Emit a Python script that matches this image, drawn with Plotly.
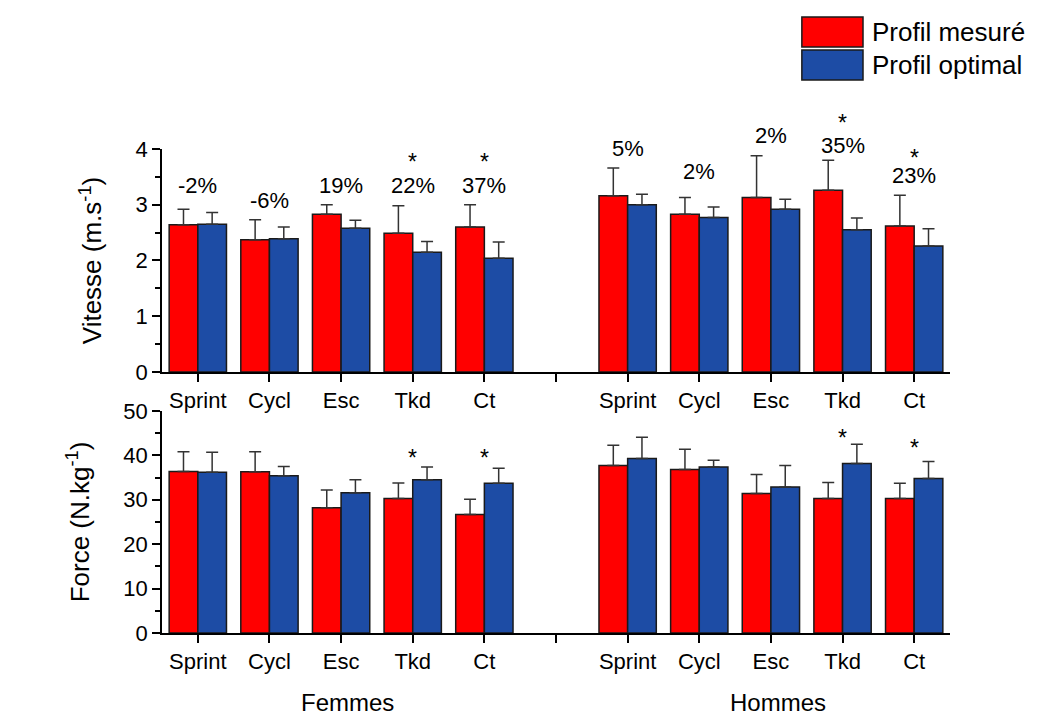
import plotly.graph_objects as go
from plotly.subplots import make_subplots

# ---------------- data ----------------
sports = ["Sprint", "Cycl", "Esc", "Tkd", "Ct"]
groups = ["Femmes", "Hommes"]
# category index positions (gap between groups at index 5)
positions = [0, 1, 2, 3, 4, 6, 7, 8, 9, 10]
tick_positions = [0, 1, 2, 3, 4, 5, 6, 7, 8, 9, 10]
tick_labels = sports + [""] + sports

# Vitesse (m.s-1)
v_range = [0, 4]
v_mesure = [2.64, 2.37, 2.83, 2.49, 2.60, 3.16, 2.83, 3.13, 3.26, 2.62]
v_mesure_sd = [0.28, 0.36, 0.17, 0.49, 0.40, 0.50, 0.30, 0.75, 0.54, 0.55]
v_optimal = [2.65, 2.39, 2.58, 2.15, 2.04, 3.00, 2.77, 2.92, 2.55, 2.26]
v_optimal_sd = [0.21, 0.21, 0.14, 0.19, 0.29, 0.19, 0.19, 0.18, 0.21, 0.31]

# Force (N.kg-1)
f_range = [0, 50]
f_mesure = [36.4, 36.3, 28.2, 30.3, 26.7, 37.7, 36.8, 31.4, 30.3, 30.3]
f_mesure_sd = [4.4, 4.5, 4.0, 3.5, 3.4, 4.6, 4.6, 4.3, 3.6, 3.4]
f_optimal = [36.2, 35.4, 31.6, 34.5, 33.7, 39.3, 37.4, 32.9, 38.2, 34.8]
f_optimal_sd = [4.5, 2.1, 2.9, 2.9, 3.4, 4.8, 1.5, 4.8, 4.3, 3.8]

# annotations: percent differences (top panel)
pct_labels = ["-2%", "-6%", "19%", "22%", "37%", "5%", "2%", "2%", "35%", "23%"]
pct_y = [3.35, 3.07, 3.34, 3.35, 3.35, 4.01, 3.59, 4.25, 4.07, 3.52]
# significance stars
star_v_pos = [3, 4, 9, 10]
star_v_y = [3.86, 3.86, 4.55, 3.93]
star_f_pos = [3, 4, 9, 10]
star_f_y = [40.5, 40.5, 45.1, 42.9]

series_names = ["Profil mesuré", "Profil optimal"]
RED = "#FF0000"
BLUE = "#1D4CA5"
FONT = "Arial, Liberation Sans, sans-serif"

fig = make_subplots(rows=2, cols=1)

def add_bars(row, vals, sds, color, name):
    fig.add_trace(go.Bar(
        x=positions, y=vals, name=name, showlegend=False,
        marker=dict(color=color, line=dict(color="#1a1a1a", width=1.5)),
        error_y=dict(type="data", symmetric=False, array=sds,
                     arrayminus=[0] * len(sds), color="#333333",
                     thickness=1.5, width=6),
    ), row=row, col=1)

add_bars(1, v_mesure, v_mesure_sd, RED, series_names[0])
add_bars(1, v_optimal, v_optimal_sd, BLUE, series_names[1])
add_bars(2, f_mesure, f_mesure_sd, RED, series_names[0])
add_bars(2, f_optimal, f_optimal_sd, BLUE, series_names[1])

axis_common = dict(showline=True, linecolor="black", linewidth=1.5,
                   ticks="outside", ticklen=8, tickwidth=1.5, tickcolor="black",
                   showgrid=False, zeroline=False, automargin=False,
                   tickfont=dict(family=FONT, size=22, color="black"))

for ax in ["xaxis", "xaxis2"]:
    fig.layout[ax].update(range=[-0.5, 10.5], tickmode="array",
                          tickvals=tick_positions, ticktext=tick_labels,
                          **axis_common)

fig.layout.xaxis.update(domain=[0, 1], anchor="y")
fig.layout.xaxis2.update(domain=[0, 1], anchor="y2")

fig.layout.yaxis.update(domain=[0.5393, 1.0], range=v_range, dtick=1,
                        minor=dict(dtick=0.5, ticks="outside", ticklen=5,
                                   tickwidth=1.5, tickcolor="black"),
                        title=dict(text="Vitesse (m.s<sup>-1</sup>)",
                                   font=dict(family=FONT, size=26, color="black"),
                                   standoff=26),
                        **axis_common)
fig.layout.yaxis2.update(domain=[0, 0.4587], range=f_range, dtick=10,
                         minor=dict(dtick=5, ticks="outside", ticklen=5,
                                    tickwidth=1.5, tickcolor="black"),
                         title=dict(text="Force (N.kg<sup>-1</sup>)",
                                    font=dict(family=FONT, size=26, color="black"),
                                    standoff=26),
                         **axis_common)

annotations = []
for x, y, t in zip(positions, pct_y, pct_labels):
    annotations.append(dict(x=x, y=y / v_range[1], xref="x", yref="y domain", text=t,
                            showarrow=False, xanchor="center", yanchor="middle",
                            font=dict(family=FONT, size=22, color="black")))
for x, y in zip(star_v_pos, star_v_y):
    annotations.append(dict(x=x, y=y / v_range[1], xref="x", yref="y domain", text="*",
                            showarrow=False, xanchor="center", yanchor="middle",
                            yshift=-5, font=dict(family=FONT, size=23, color="black")))
for x, y in zip(star_f_pos, star_f_y):
    annotations.append(dict(x=x, y=y / f_range[1], xref="x2", yref="y2 domain", text="*",
                            showarrow=False, xanchor="center", yanchor="middle",
                            yshift=-5, font=dict(family=FONT, size=23, color="black")))

# group labels
annotations.append(dict(x=0.2348, y=-0.1426, xref="paper", yref="paper", text=groups[0],
                        xanchor="center", yanchor="middle",
                        showarrow=False, font=dict(family=FONT, size=24, color="black")))
annotations.append(dict(x=0.7817, y=-0.1426, xref="paper", yref="paper", text=groups[1],
                        xanchor="center", yanchor="middle",
                        showarrow=False, font=dict(family=FONT, size=24, color="black")))

# legend (drawn boxes + text)
shapes = [
    dict(type="rect", xref="paper", yref="paper", x0=0.812, x1=0.8896, y0=1.2107, y1=1.2727,
         fillcolor=RED, line=dict(color="#1a1a1a", width=1.5)),
    dict(type="rect", xref="paper", yref="paper", x0=0.812, x1=0.8896, y0=1.1426, y1=1.2045,
         fillcolor=BLUE, line=dict(color="#1a1a1a", width=1.5)),
]
annotations.append(dict(x=0.899, y=1.2417, xref="paper", yref="paper", text=series_names[0],
                        xanchor="left", yanchor="middle", showarrow=False,
                        font=dict(family=FONT, size=26, color="black")))
annotations.append(dict(x=0.899, y=1.1736, xref="paper", yref="paper", text=series_names[1],
                        xanchor="left", yanchor="middle", showarrow=False,
                        font=dict(family=FONT, size=26, color="black")))

fig.update_layout(
    width=1047, height=718,
    margin=dict(l=154, r=105, t=141, b=93),
    paper_bgcolor="white", plot_bgcolor="white",
    barmode="group", bargap=0.2, bargroupgap=0,
    annotations=annotations, shapes=shapes,
    showlegend=False,
)

fig.write_html("out.html")
